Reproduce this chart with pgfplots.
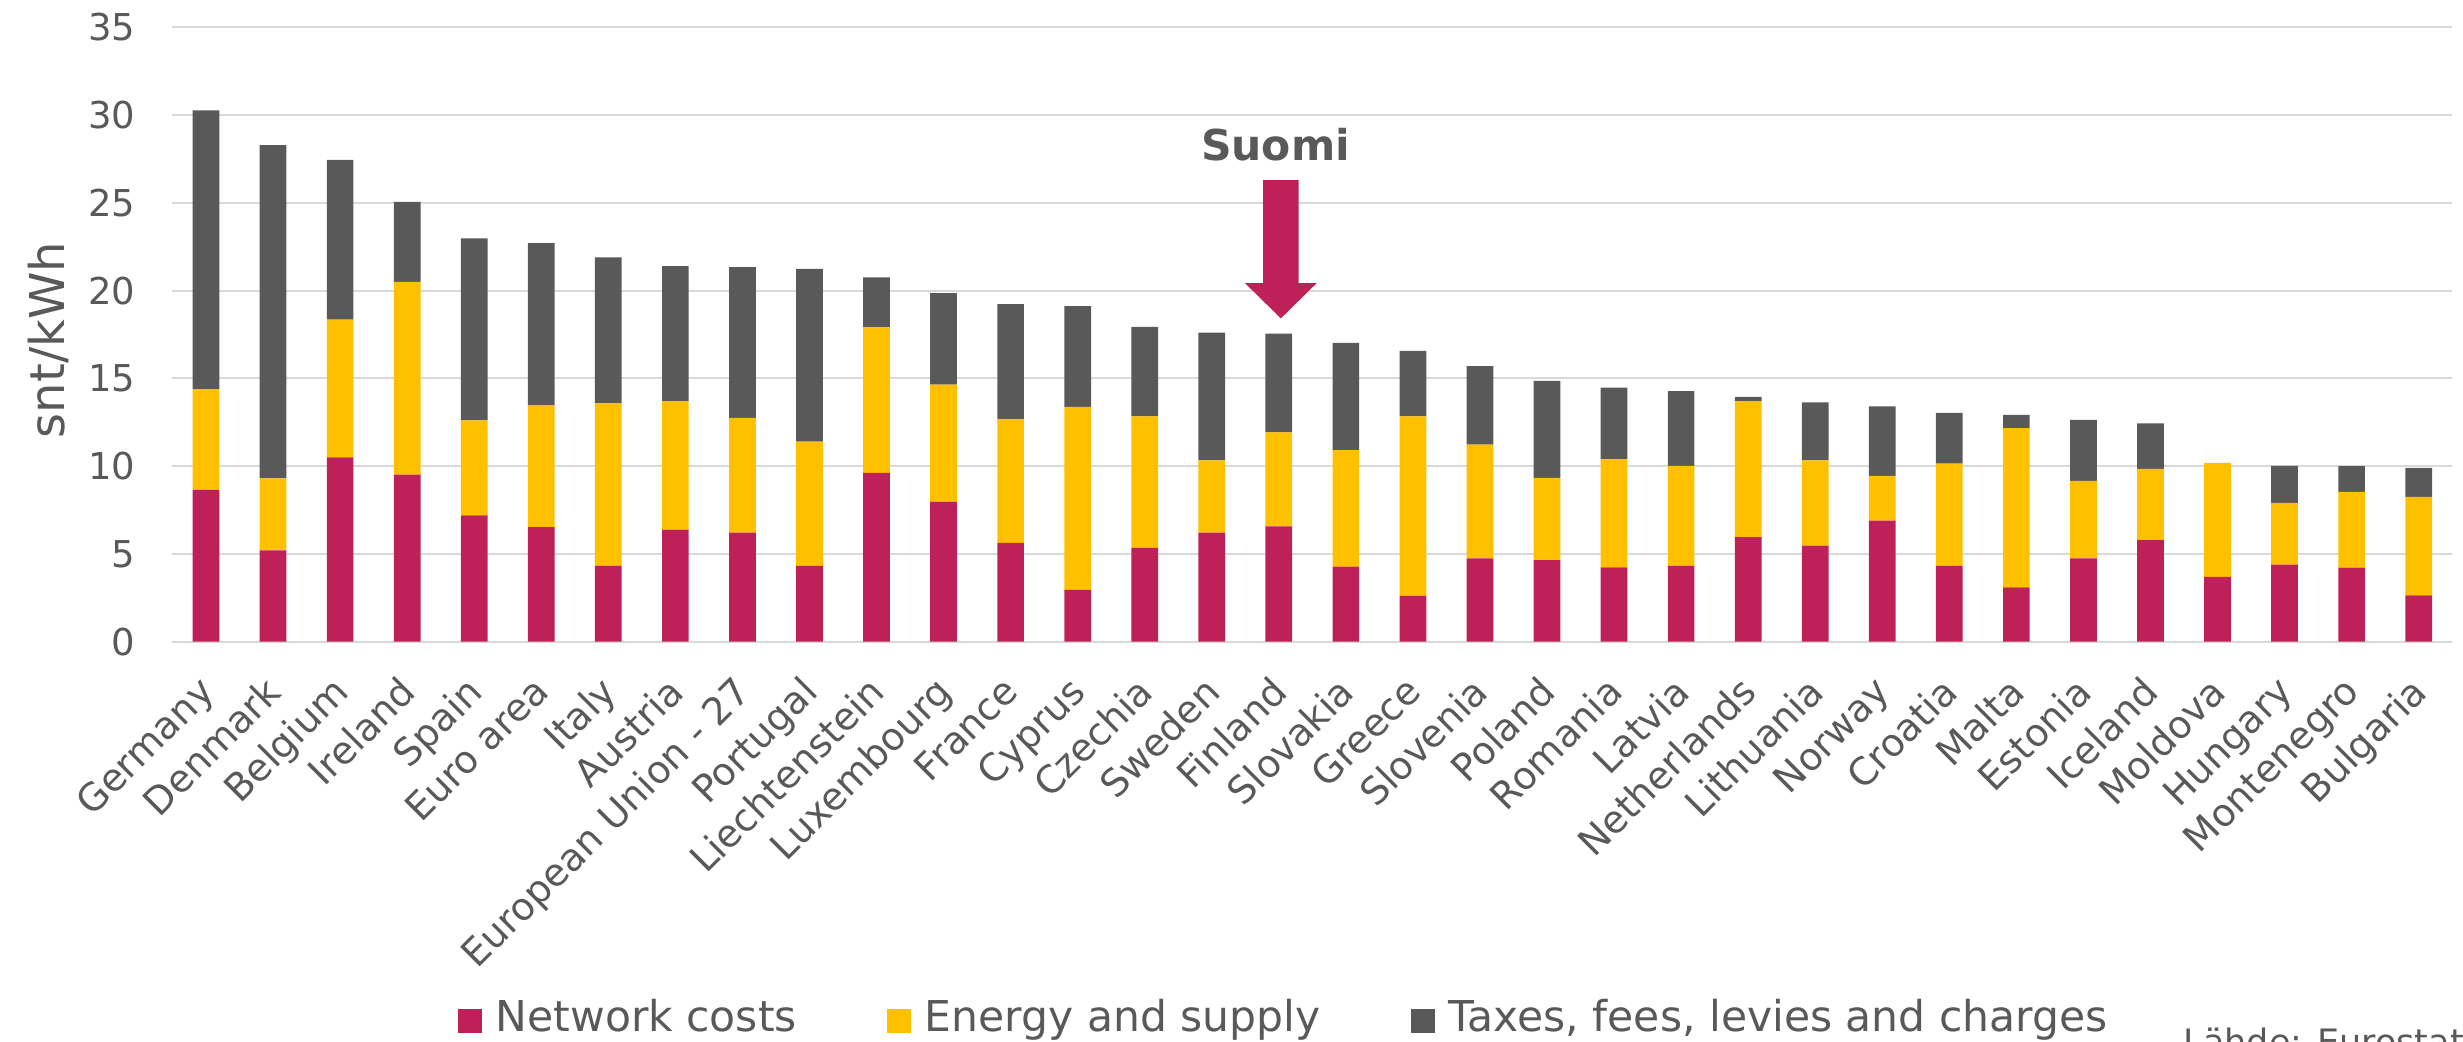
\documentclass[border=0pt]{standalone}
\usepackage{fontspec}
\setmainfont{DejaVu Sans}
\usepackage{pgfplots}
\pgfplotsset{compat=1.18}
\usepackage{pgfplotstable}

\definecolor{netred}{RGB}{190,33,88}
\definecolor{enyellow}{RGB}{255,192,0}
\definecolor{taxgray}{RGB}{89,89,89}
\definecolor{txtgray}{RGB}{89,89,89}
\definecolor{gridgray}{RGB}{217,217,217}

\pgfplotstableread{
idx net energy taxes
0 8.65 5.73 15.88
1 5.20 4.10 18.99
2 10.50 7.84 9.11
3 9.52 10.98 4.55
4 7.19 5.42 10.36
5 6.52 6.95 9.23
6 4.32 9.25 8.32
7 6.38 7.31 7.70
8 6.21 6.54 8.59
9 4.32 7.07 9.85
10 9.61 8.30 2.85
11 7.96 6.69 5.20
12 5.63 7.03 6.57
13 2.95 10.43 5.73
14 5.35 7.48 5.10
15 6.21 4.12 7.27
16 6.57 5.35 5.63
17 4.27 6.64 6.11
18 2.61 10.22 3.74
19 4.75 6.47 4.48
20 4.65 4.68 5.53
21 4.24 6.14 4.10
22 4.32 5.70 4.25
23 5.95 7.76 0.24
24 5.47 4.86 3.31
25 6.90 2.55 3.95
26 4.32 5.82 2.90
27 3.09 9.07 0.76
28 4.75 4.41 3.47
29 5.78 4.07 2.59
30 3.69 6.50 0.00
31 4.39 3.52 2.11
32 4.22 4.32 1.46
33 2.64 5.61 1.65
}\data

\begin{document}
\begin{tikzpicture}
\path[use as bounding box] (0pt,0pt) rectangle (985.2pt,416.8pt);
\begin{axis}[
  at={(69pt,160.12pt)}, anchor=south west,
  scale only axis,
  width=911.88pt, height=245.76pt,
  ybar stacked,
  bar width=10.68pt,
  xmin=-0.5, xmax=33.5,
  ymin=0, ymax=35,
  enlargelimits=false,
  ytick={0,5,...,35},
  xtick={0,...,33},
  xticklabels={Germany,Denmark,Belgium,Ireland,Spain,Euro area,Italy,Austria,European Union - 27,Portugal,Liechtenstein,Luxembourg,France,Cyprus,Czechia,Sweden,Finland,Slovakia,Greece,Slovenia,Poland,Romania,Latvia,Netherlands,Lithuania,Norway,Croatia,Malta,Estonia,Iceland,Moldova,Hungary,Montenegro,Bulgaria},
  ymajorgrids,
  grid style={color=gridgray, line width=0.8pt},
  axis line style={draw=none},
  tick style={draw=none},
  major tick length=0pt,
  /pgf/number format/assume math mode=true,
  yticklabel style={xshift=-14.6pt, anchor=east, inner sep=0pt, font=\fontsize{14.8}{17}\selectfont, text=txtgray},
  xticklabel style={yshift=-12.7pt, xshift=-4pt, rotate=45, anchor=north east, inner sep=0pt, font=\fontsize{15.2}{18}\selectfont, text=txtgray},
  ylabel={snt/kWh},
  every axis y label/.style={at={(axis description cs:-0.0546,0.491)}, rotate=90, anchor=center, font=\fontsize{19.2}{22}\selectfont, text=txtgray},
  legend columns=3,
  legend cell align=left,
  legend style={at={(axis description cs:0.487,-0.6206)}, anchor=center, draw=none, fill=none,
    font=\fontsize{17}{20}\selectfont, text=txtgray,
    nodes={inner sep=0pt, text height=0.76em, text depth=0.24em},
    /tikz/every odd column/.append style={column sep=5.6pt},
    /tikz/every even column/.append style={column sep=36pt}},
  legend image code/.code={\fill[#1] (0pt,-3.2pt) rectangle (9.6pt,6.4pt);},
]
\addplot[fill=netred, draw=none] table[x=idx, y=net]{\data};
\addlegendentry{Network costs}
\addplot[fill=enyellow, draw=none] table[x=idx, y=energy]{\data};
\addlegendentry{Energy and supply}
\addplot[fill=taxgray, draw=none] table[x=idx, y=taxes]{\data};
\addlegendentry{Taxes, fees, levies and charges}

\node[font=\fontsize{17}{20}\selectfont\bfseries, text=txtgray] at (axis cs:15.95,28.32) {Suomi};
\fill[netred] (axis cs:15.764,26.30) -- (axis cs:16.296,26.30) -- (axis cs:16.296,20.42)
  -- (axis cs:16.563,20.42) -- (axis cs:16.03,18.42) -- (axis cs:15.497,20.42)
  -- (axis cs:15.764,20.42) -- cycle;
\end{axis}
\node[anchor=north west, inner sep=0pt, font=\fontsize{14}{17}\selectfont, text=txtgray] at (873.3pt,5.8pt) {Lähde: Eurostat};
\end{tikzpicture}
\end{document}
